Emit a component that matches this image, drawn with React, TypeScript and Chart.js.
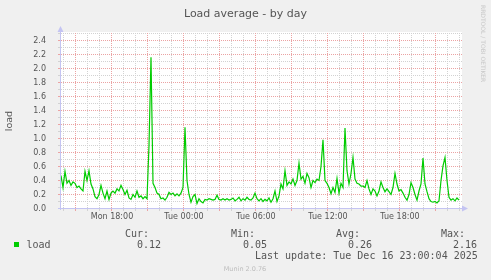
import React, { useEffect, useRef } from 'react';
import { Chart, registerables } from 'chart.js';

Chart.register(...registerables);

const TITLE = 'Load average - by day';
const Y_LABEL = 'load';
const SERIES_NAME = 'load';
const WATERMARK = 'RRDTOOL / TOBI OETIKER';
const VERSION = 'Munin 2.0.76';
const LAST_UPDATE = 'Last update: Tue Dec 16 23:00:04 2025';

// time axis in hours since Monday 00:00
const START_HOUR = 13.75;
const END_HOUR = 47.0833;
const STEP_HOURS = 1 / 6;

const LOAD = [
  0.47, 0.30, 0.53, 0.36, 0.40, 0.33, 0.38, 0.36, 0.30, 0.32,
  0.28, 0.25, 0.53, 0.40, 0.54, 0.35, 0.28, 0.17, 0.14, 0.20,
  0.33, 0.22, 0.14, 0.25, 0.13, 0.22, 0.25, 0.22, 0.28, 0.25,
  0.33, 0.27, 0.20, 0.26, 0.15, 0.13, 0.20, 0.16, 0.25, 0.16,
  0.18, 0.14, 0.17, 0.14, 0.90, 2.16, 0.36, 0.30, 0.22, 0.20,
  0.14, 0.15, 0.12, 0.16, 0.23, 0.20, 0.22, 0.18, 0.21, 0.18,
  0.22, 0.30, 1.16, 0.40, 0.20, 0.09, 0.17, 0.20, 0.07, 0.14,
  0.10, 0.08, 0.13, 0.12, 0.14, 0.13, 0.12, 0.13, 0.19, 0.13,
  0.12, 0.14, 0.12, 0.14, 0.12, 0.13, 0.15, 0.11, 0.13, 0.16,
  0.11, 0.14, 0.12, 0.16, 0.13, 0.12, 0.15, 0.22, 0.14, 0.11,
  0.14, 0.10, 0.13, 0.11, 0.15, 0.09, 0.14, 0.25, 0.10, 0.18,
  0.35, 0.28, 0.54, 0.33, 0.38, 0.35, 0.42, 0.33, 0.40, 0.65,
  0.42, 0.46, 0.36, 0.50, 0.44, 0.30, 0.40, 0.37, 0.42, 0.40,
  0.60, 0.98, 0.40, 0.36, 0.30, 0.21, 0.30, 0.23, 0.43, 0.22,
  0.36, 0.30, 1.15, 0.54, 0.35, 0.50, 0.73, 0.42, 0.36, 0.35,
  0.32, 0.32, 0.30, 0.40, 0.28, 0.20, 0.28, 0.25, 0.18, 0.25,
  0.38, 0.30, 0.24, 0.28, 0.24, 0.20, 0.30, 0.50, 0.35, 0.25,
  0.27, 0.22, 0.16, 0.12, 0.20, 0.37, 0.30, 0.20, 0.12, 0.25,
  0.35, 0.72, 0.35, 0.24, 0.14, 0.10, 0.09, 0.10, 0.08, 0.11,
  0.40, 0.61, 0.73, 0.40, 0.16, 0.12, 0.14, 0.11, 0.15, 0.12,
];

const Y_TICKS = [0, 0.2, 0.4, 0.6, 0.8, 1.0, 1.2, 1.4, 1.6, 1.8, 2.0, 2.2, 2.4];
const Y_MAX = 2.5;
const Y_MINOR_STEP = 0.1;
const X_TICK_HOURS = [18, 24, 30, 36, 42];
const X_TICK_LABELS = ['Mon 18:00', 'Tue 00:00', 'Tue 06:00', 'Tue 12:00', 'Tue 18:00'];
const X_MINOR_STEP = 1; // hours
const X_MAJOR_STEP = 3; // hours

const STAT_LABELS = ['Cur:', 'Min:', 'Avg:', 'Max:'];
const STAT_VALUES = ['0.12', '0.05', '0.26', '2.16'];

const GREEN = '#00CC00';
const TEXT = '#555555';
const MINOR = '#D2D2D2';
const MAJOR = '#EBA3A3';
const AXIS = '#C4C4F2';

const mungePlugin = {
  id: 'munin',
  beforeDraw(chart: any) {
    const { ctx, chartArea: a } = chart;
    ctx.save();
    ctx.fillStyle = '#F0F0F0';
    ctx.fillRect(0, 0, chart.width, chart.height);
    ctx.fillStyle = '#FFFFFF';
    ctx.fillRect(Math.floor(a.left), Math.floor(a.top) - 1, Math.ceil(a.right - a.left) + 1, Math.ceil(a.bottom - a.top) + 1);
    ctx.restore();
  },
  beforeDatasetsDraw(chart: any) {
    const { ctx, chartArea: a, scales } = chart;
    const xs = scales.x;
    const ys = scales.y;
    ctx.save();
    const top = Math.floor(ys.getPixelForValue(Y_MAX));
    const bottom = Math.floor(ys.getPixelForValue(0));
    const left = Math.floor(a.left);
    const right = Math.floor(a.right);
    // horizontal grid
    const nMinor = Math.round(Y_MAX / Y_MINOR_STEP);
    for (let k = 1; k <= nMinor; k++) {
      const v = k * Y_MINOR_STEP;
      const major = k % 2 === 0 && k < nMinor;
      const row = Math.floor(ys.getPixelForValue(v));
      ctx.fillStyle = major ? MAJOR : MINOR;
      for (let x = left; x <= right; x += 2) ctx.fillRect(x, row, 1, 1);
      ctx.fillRect(left - 3, row, 2, 1);
    }
    // vertical grid
    for (let h = Math.ceil(START_HOUR); h <= END_HOUR; h += X_MINOR_STEP) {
      const major = h % X_MAJOR_STEP === 0;
      const col = Math.floor(xs.getPixelForValue(h) - 0.5);
      ctx.fillStyle = major ? MAJOR : MINOR;
      for (let y = top; y <= bottom; y += 2) ctx.fillRect(col, y, 1, 1);
      ctx.fillRect(col, bottom + 1, 1, 2);
    }
    // axes
    ctx.fillStyle = AXIS;
    ctx.fillRect(left - 1, top - 4, 1, bottom - top + 6);
    ctx.fillRect(left - 3, bottom, right - left + 8, 1);
    ctx.beginPath();
    ctx.moveTo(left - 0.5, top - 7);
    ctx.lineTo(left - 3.5, top - 1);
    ctx.lineTo(left + 2.5, top - 1);
    ctx.closePath();
    ctx.fill();
    ctx.beginPath();
    ctx.moveTo(right + 7, bottom + 0.5);
    ctx.lineTo(right + 1, bottom - 2.5);
    ctx.lineTo(right + 1, bottom + 3.5);
    ctx.closePath();
    ctx.fill();
    ctx.restore();
  },
  afterDraw(chart: any) {
    const { ctx, chartArea: a } = chart;
    ctx.save();
    // title
    ctx.fillStyle = TEXT;
    ctx.font = '11px "DejaVu Sans"';
    ctx.textAlign = 'center';
    ctx.textBaseline = 'alphabetic';
    ctx.fillText(TITLE, chart.width / 2, 16.5);
    // y label
    ctx.save();
    ctx.translate(12, (a.top + a.bottom) / 2);
    ctx.rotate(-Math.PI / 2);
    ctx.font = '9.5px "DejaVu Sans"';
    ctx.textAlign = 'center';
    ctx.fillText(Y_LABEL, 0, 0);
    ctx.restore();
    // watermark
    ctx.save();
    ctx.translate(480.5, 5);
    ctx.rotate(Math.PI / 2);
    ctx.fillStyle = '#C8C8C8';
    ctx.font = '6px "DejaVu Sans"';
    ctx.textAlign = 'left';
    ctx.fillText(WATERMARK, 0, 0);
    ctx.restore();
    // legend
    ctx.fillStyle = GREEN;
    ctx.fillRect(14, 242, 5, 5);
    ctx.fillStyle = TEXT;
    ctx.font = '10px "DejaVu Sans Mono"';
    ctx.textAlign = 'left';
    ctx.fillText(SERIES_NAME, 26.5, 248);
    const labelX = [125, 231, 336, 441];
    const valueX = [137, 243, 348, 453];
    STAT_LABELS.forEach((s, i) => ctx.fillText(s, labelX[i], 236.5));
    STAT_VALUES.forEach((s, i) => ctx.fillText(s, valueX[i], 248));
    ctx.fillText(LAST_UPDATE, 255, 259);
    ctx.fillStyle = '#BDBDBD';
    ctx.font = '6.5px "DejaVu Sans"';
    ctx.textAlign = 'center';
    ctx.fillText(VERSION, 245, 271);
    ctx.restore();
  },
};

export default function App() {
  const ref = useRef<HTMLCanvasElement | null>(null);
  useEffect(() => {
    document.body.style.margin = '0';
    const canvas = ref.current!;
    const chart = new Chart(canvas, {
      type: 'line',
      data: {
        datasets: [
          {
            label: SERIES_NAME,
            data: LOAD.map((v, i) => ({ x: START_HOUR + i * STEP_HOURS, y: v })),
            borderColor: GREEN,
            borderWidth: 1.2,
            pointRadius: 0,
            tension: 0,
            fill: false,
          },
        ],
      },
      options: {
        responsive: false,
        animation: false,
        devicePixelRatio: 1,
        layout: { padding: { left: 0, right: 30, top: 33.5, bottom: 0 } },
        plugins: { legend: { display: false }, title: { display: false }, tooltip: { enabled: false } },
        events: [],
        scales: {
          x: {
            type: 'linear',
            min: START_HOUR,
            max: END_HOUR,
            grid: { display: false },
            border: { display: false },
            afterFit: (s: any) => { s.height = 71.5; },
            afterBuildTicks: (s: any) => { s.ticks = X_TICK_HOURS.map((v) => ({ value: v })); },
            ticks: {
              autoSkip: false,
              maxRotation: 0,
              padding: -4,
              color: TEXT,
              font: { family: 'DejaVu Sans', size: 8 },
              callback: (_v: any, i: number) => X_TICK_LABELS[i],
            },
          },
          y: {
            type: 'linear',
            min: 0,
            max: Y_MAX,
            grid: { display: false },
            border: { display: false },
            afterFit: (s: any) => { s.width = 61; },
            afterBuildTicks: (s: any) => { s.ticks = Y_TICKS.map((v) => ({ value: v })); },
            ticks: {
              autoSkip: false,
              padding: 7,
              color: TEXT,
              font: { family: 'DejaVu Sans', size: 8 },
              callback: (v: any) => Number(v).toFixed(1),
            },
          },
        },
      },
      plugins: [mungePlugin],
    } as any);
    return () => chart.destroy();
  }, []);
  return (
    <canvas
      ref={ref}
      width={491}
      height={280}
      style={{ display: 'block', width: 491, height: 280 }}
    />
  );
}
